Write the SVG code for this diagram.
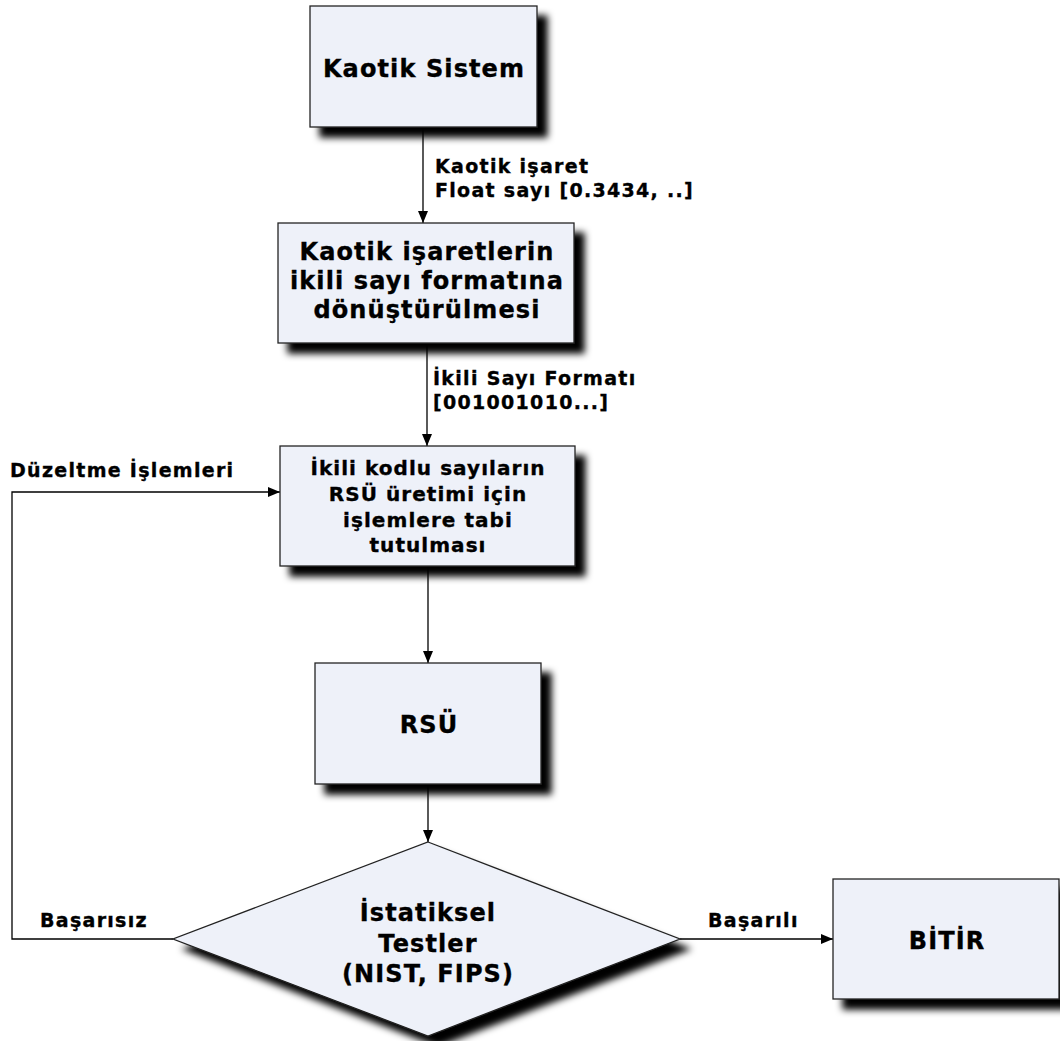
<svg xmlns="http://www.w3.org/2000/svg" width="1060" height="1041" viewBox="0 0 1060 1041">
  <defs>
    <filter id="shadow" x="-10%" y="-10%" width="130%" height="140%">
      <feGaussianBlur in="SourceAlpha" stdDeviation="3.5"/>
      <feOffset dx="10" dy="10" result="off"/>
      <feComponentTransfer result="dark">
        <feFuncA type="linear" slope="1"/>
      </feComponentTransfer>
      <feMerge>
        <feMergeNode in="dark"/>
        <feMergeNode in="SourceGraphic"/>
      </feMerge>
    </filter>
    <marker id="arrow" viewBox="0 0 12 10" refX="12" refY="5" markerWidth="12" markerHeight="10" markerUnits="userSpaceOnUse" orient="auto">
      <path d="M0,0 L12,5 L0,10 Z" fill="#000"/>
    </marker>
    <style>
      .shape { fill: #eef1f9; stroke: #222; stroke-width: 1.3; filter: url(#shadow); }
      .txt { font-family: "DejaVu Sans", Verdana, sans-serif; font-weight: bold; fill: #000; stroke: #000; stroke-width: 0.35; }
      .big { font-size: 24px; letter-spacing: 1.1px; text-anchor: middle; }
      .mid { font-size: 20px; letter-spacing: 1.05px; text-anchor: middle; }
      .lbl { font-size: 19px; letter-spacing: 1.3px; }
      .conn { fill: none; stroke: #000; stroke-width: 1.3; }
    </style>
  </defs>

  <rect width="1060" height="1041" fill="#fff"/>

  <!-- connectors -->
  <g id="connectors">
    <line class="conn" x1="423" y1="127" x2="423" y2="223" marker-end="url(#arrow)"/>
    <line class="conn" x1="427" y1="343" x2="427" y2="446" marker-end="url(#arrow)"/>
    <line class="conn" x1="428" y1="566" x2="428" y2="663" marker-end="url(#arrow)"/>
    <line class="conn" x1="428" y1="784" x2="428" y2="842" marker-end="url(#arrow)"/>
    <line class="conn" x1="680" y1="939" x2="833" y2="939" marker-end="url(#arrow)"/>
    <polyline class="conn" points="173,939 12,939 12,492 280,492" marker-end="url(#arrow)"/>
    <text class="txt lbl" x="435" y="173">Kaotik işaret</text>
    <text class="txt lbl" x="435" y="197">Float sayı [0.3434, ..]</text>
    <text class="txt lbl" x="433" y="385">İkili Sayı Formatı</text>
    <text class="txt lbl" x="433" y="409">[001001010...]</text>
    <text class="txt lbl" x="10" y="477">Düzeltme İşlemleri</text>
    <text class="txt lbl" x="40" y="927">Başarısız</text>
    <text class="txt lbl" x="708" y="927">Başarılı</text>
  </g>

  <!-- nodes -->
  <g id="kaotik-sistem">
    <rect class="shape" x="310" y="6" width="227" height="121"/>
    <text class="txt big" x="424" y="77">Kaotik Sistem</text>
  </g>

  <g id="donusturme">
    <rect class="shape" x="278" y="223" width="296" height="120"/>
    <text class="txt big" x="427" y="260">Kaotik işaretlerin</text>
    <text class="txt big" x="427" y="289">ikili sayı formatına</text>
    <text class="txt big" x="427" y="318">dönüştürülmesi</text>
  </g>

  <g id="islemler">
    <rect class="shape" x="280" y="446" width="295" height="120"/>
    <text class="txt mid" x="428" y="475">İkili kodlu sayıların</text>
    <text class="txt mid" x="428" y="501">RSÜ üretimi için</text>
    <text class="txt mid" x="428" y="527">işlemlere tabi</text>
    <text class="txt mid" x="428" y="552">tutulması</text>
  </g>

  <g id="rsu">
    <rect class="shape" x="315" y="663" width="226" height="121"/>
    <text class="txt big" x="429" y="733">RSÜ</text>
  </g>

  <g id="testler">
    <polygon class="shape" points="428,842 680,939 428,1036 173,939"/>
    <text class="txt big" x="428" y="921">İstatiksel</text>
    <text class="txt big" x="428" y="952">Testler</text>
    <text class="txt big" x="428" y="982">(NIST, FIPS)</text>
  </g>

  <g id="bitir">
    <rect class="shape" x="833" y="879" width="226" height="120"/>
    <text class="txt big" x="947" y="949">BİTİR</text>
  </g>
</svg>
